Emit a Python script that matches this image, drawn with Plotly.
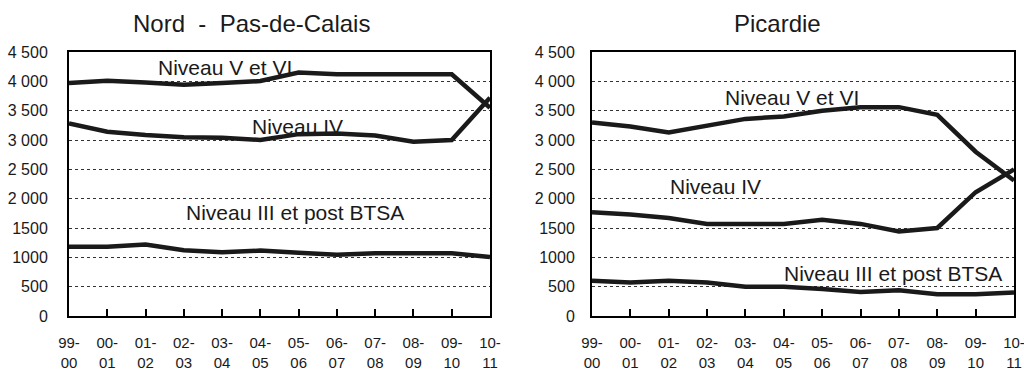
import plotly.graph_objects as go

years = ["99-<br>00", "00-<br>01", "01-<br>02", "02-<br>03", "03-<br>04", "04-<br>05",
         "05-<br>06", "06-<br>07", "07-<br>08", "08-<br>09", "09-<br>10", "10-<br>11"]
y_ticks = [0, 500, 1000, 1500, 2000, 2500, 3000, 3500, 4000, 4500]
y_ticktext = ["0", "500", "1000", "1500", "2 000", "2 500", "3 000", "3 500", "4 000", "4 500"]

# Nord - Pas-de-Calais
npc_v_vi = [3970, 4010, 3980, 3940, 3970, 4005, 4150, 4120, 4120, 4120, 4120, 3550]
npc_iv = [3280, 3140, 3085, 3045, 3040, 3000, 3100, 3110, 3075, 2970, 3000, 3720]
npc_iii = [1180, 1180, 1220, 1120, 1085, 1115, 1080, 1045, 1070, 1070, 1070, 1005]

# Picardie
pic_v_vi = [3300, 3230, 3130, 3240, 3360, 3400, 3500, 3560, 3560, 3430, 2800, 2310]
pic_iv = [1770, 1730, 1670, 1570, 1570, 1570, 1640, 1570, 1440, 1500, 2110, 2500]
pic_iii = [600, 570, 600, 570, 500, 500, 460, 410, 440, 370, 370, 400]

FONT = "Liberation Sans, Arial, sans-serif"
TXT = "#1a1a1a"
LINE = "#1a1a1a"

xs = list(range(len(years)))
fig = go.Figure()
for series, ax in [(npc_v_vi, "1"), (npc_iv, "1"), (npc_iii, "1"),
                   (pic_v_vi, "2"), (pic_iv, "2"), (pic_iii, "2")]:
    fig.add_trace(go.Scatter(x=xs, y=series, mode="lines",
                             line=dict(color=LINE, width=4.5),
                             xaxis="x" if ax == "1" else "x2",
                             yaxis="y" if ax == "1" else "y2",
                             showlegend=False, hoverinfo="skip"))

W, H = 1024, 376
top_px, bot_px = 52, 316
ydom = [(H - bot_px) / H, (H - top_px) / H]

xaxis_common = dict(range=[0, 11], tickmode="array", tickvals=xs, ticktext=years,
                    ticks="inside", ticklen=7, tickwidth=1.5, tickcolor="black",
                    showgrid=False, zeroline=False, showline=True, linewidth=2,
                    linecolor="black", mirror=True, ticklabelstandoff=12, automargin=False,
                    ticklabeloverflow="allow",
                    tickfont=dict(family=FONT, size=15, color=TXT))
yaxis_common = dict(range=[0, 4500], tickmode="array", tickvals=y_ticks, ticktext=y_ticktext,
                    ticks="", showgrid=True, gridcolor="#333333", gridwidth=1, griddash="dot",
                    zeroline=False, showline=True, linewidth=2, linecolor="black", mirror=True,
                    automargin=False, tickfont=dict(family=FONT, size=16, color=TXT))

fig.update_layout(
    width=W, height=H,
    margin=dict(l=0, r=0, t=0, b=0, autoexpand=False),
    paper_bgcolor="white", plot_bgcolor="white",
    xaxis=dict(domain=[69 / W, 490 / W], anchor="y", **xaxis_common),
    yaxis=dict(domain=ydom, anchor="x", ticklabelstandoff=16, **yaxis_common),
    xaxis2=dict(domain=[592 / W, 1014 / W], anchor="y2", **xaxis_common),
    yaxis2=dict(domain=ydom, anchor="x2", ticklabelstandoff=12, **yaxis_common),
)

ann_font = dict(family=FONT, size=21, color=TXT)
labels = [
    ("x", "y", 4.08, 4230, "Niveau V et VI"),
    ("x", "y", 5.96, 3238, "Niveau IV"),
    ("x", "y", 5.9, 1756, "Niveau III et post BTSA"),
    ("x2", "y2", 5.21, 3733, "Niveau V et VI"),
    ("x2", "y2", 3.23, 2199, "Niveau IV"),
    ("x2", "y2", 7.85, 733, "Niveau III et post BTSA"),
]
for xr, yr, x, y, t in labels:
    fig.add_annotation(xref=xr, yref=yr, x=x, y=y, text=t, showarrow=False,
                       xanchor="center", yanchor="middle", font=ann_font)

title_font = dict(family=FONT, size=24, color=TXT)
fig.add_annotation(xref="paper", yref="paper", x=251 / W, y=(H - 24) / H,
                   text="Nord  -  Pas-de-Calais", showarrow=False,
                   xanchor="center", yanchor="middle", font=title_font)
fig.add_annotation(xref="paper", yref="paper", x=777 / W, y=(H - 24) / H,
                   text="Picardie", showarrow=False,
                   xanchor="center", yanchor="middle", font=title_font)

fig.write_html("out.html", config={"displayModeBar": False},
               post_script="document.body.style.margin='0px';document.body.style.overflow='hidden';")
